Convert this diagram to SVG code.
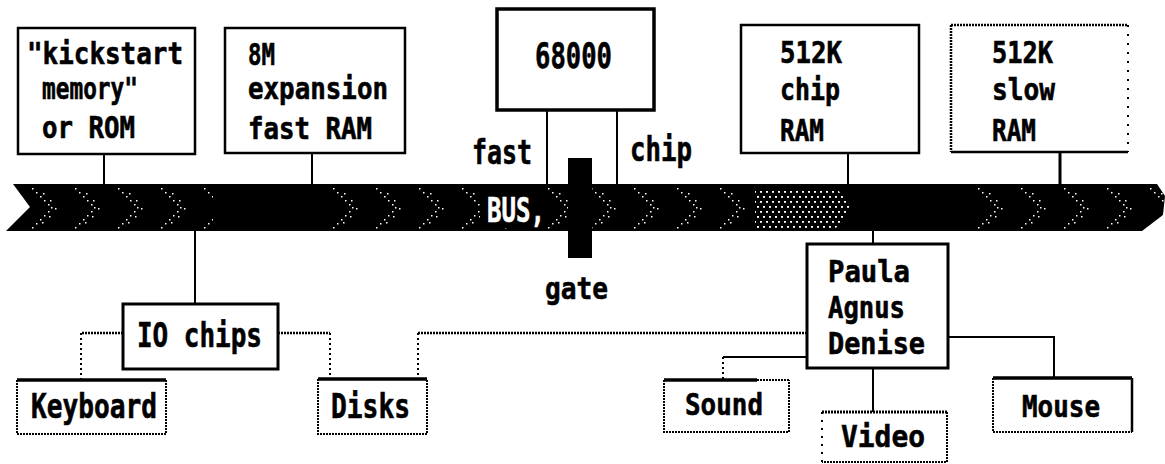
<svg xmlns="http://www.w3.org/2000/svg" width="1165" height="464" viewBox="0 0 1165 464">
<defs>
<style>
.bg{fill:#fff}
.box{fill:#fff;stroke:#000;stroke-width:2.5}
.t{font-family:"DejaVu Sans Mono","Liberation Mono",monospace;font-weight:bold;fill:#000;stroke:#000;stroke-width:0.6}
.ln{fill:none;stroke:#000;stroke-width:2}
.dot{fill:none;stroke:#000;stroke-width:2;stroke-dasharray:2 3}
.dense{fill:none;stroke:#000;stroke-width:2.5;stroke-dasharray:2 1}
.solidtop{fill:none;stroke:#000;stroke-width:3.5}
</style>
<pattern id="chev" patternUnits="userSpaceOnUse" x="30" y="184" width="43" height="47">
<g fill="#fff">
<rect x="2" y="4" width="1.5" height="1.5"/><rect x="6" y="8" width="1.5" height="1.5"/><rect x="10" y="12" width="1.5" height="1.5"/><rect x="14" y="16" width="1.5" height="1.5"/><rect x="18" y="20" width="1.5" height="1.5"/>
<rect x="21" y="23" width="1.5" height="1.5"/>
<rect x="18" y="27" width="1.5" height="1.5"/><rect x="14" y="31" width="1.5" height="1.5"/><rect x="10" y="35" width="1.5" height="1.5"/><rect x="6" y="39" width="1.5" height="1.5"/><rect x="2" y="43" width="1.5" height="1.5"/>
<rect x="13" y="9" width="1.5" height="1.5"/><rect x="20" y="16" width="1.5" height="1.5"/><rect x="25" y="24" width="1.5" height="1.5"/>
<rect x="19" y="32" width="1.5" height="1.5"/><rect x="12" y="38" width="1.5" height="1.5"/>
</g>
</pattern>
<pattern id="densep" patternUnits="userSpaceOnUse" x="0" y="184" width="6" height="10">
<rect x="1" y="2" width="2" height="1.8" fill="#fff"/><rect x="4" y="7" width="2" height="1.8" fill="#fff"/>
</pattern>
<clipPath id="busclip"><path d="M13,184 L1157,184 L1165,196 L1163,215 L1142,231 L6,231 L30,207 Z"/></clipPath>
</defs>
<rect class="bg" x="0" y="0" width="1165" height="464"/>

<g id="bus">
<path d="M13,184 L1157,184 L1165,196 L1163,215 L1142,231 L6,231 L30,207 Z" fill="#000"/>
<g clip-path="url(#busclip)">
<rect x="28" y="184" width="185" height="47" fill="url(#chev)"/>
<rect x="318" y="184" width="437" height="47" fill="url(#chev)"/>
<rect x="975" y="184" width="190" height="47" fill="url(#chev)"/>
<path d="M755,190 H838 L851,207 L836,228 H755 Z" fill="url(#densep)"/>
</g>
<rect x="480" y="188" width="68" height="40" fill="#000"/>
<text class="t" x="487" y="222" font-size="34" textLength="58" lengthAdjust="spacingAndGlyphs" style="fill:#fff;stroke:#fff">BUS,</text>
</g>

<g id="gate">
<rect x="568" y="158" width="24" height="100" fill="#000"/>
<text class="t" x="545" y="299" font-size="30" textLength="63" lengthAdjust="spacingAndGlyphs">gate</text>
</g>

<g id="connectors">
<line class="ln" x1="104" y1="154" x2="104" y2="185"/>
<line class="ln" x1="312" y1="153" x2="312" y2="185"/>
<line class="ln" x1="547" y1="110" x2="547" y2="185"/>
<line class="ln" x1="617" y1="110" x2="617" y2="185"/>
<line class="ln" x1="848" y1="153" x2="848" y2="185"/>
<line class="ln" x1="1060" y1="152" x2="1060" y2="185" style="stroke-width:3"/>
<line class="ln" x1="195" y1="230" x2="195" y2="304"/>
<line class="ln" x1="873" y1="230" x2="873" y2="244"/>
<path class="dense" d="M123,333 H81"/>
<path class="dot" d="M81,333 V380"/>
<path class="dense" d="M278,333 H330"/>
<path class="dot" d="M330,333 V379"/>
<path class="dense" d="M807,333 H418"/>
<path class="dot" d="M418,333 V378"/>
<path class="ln" d="M807,357 H723"/>
<path class="dot" d="M723,357 V380"/>
<path class="ln" d="M873,368 V412"/>
<path class="ln" d="M948,337 H1054 V378"/>
<text class="t" x="472" y="164" font-size="33" textLength="60" lengthAdjust="spacingAndGlyphs">fast</text>
<text class="t" x="630" y="161" font-size="33" textLength="62" lengthAdjust="spacingAndGlyphs">chip</text>
</g>

<g id="kickstart">
<rect class="box" x="18" y="28" width="177" height="126"/>
<text class="t" x="27" y="64" font-size="30" textLength="156" lengthAdjust="spacingAndGlyphs">"kickstart</text>
<text class="t" x="42" y="99" font-size="30" textLength="96" lengthAdjust="spacingAndGlyphs">memory"</text>
<text class="t" x="42" y="138" font-size="30" textLength="93" lengthAdjust="spacingAndGlyphs">or ROM</text>
</g>

<g id="fastram">
<rect class="box" x="225" y="28" width="180" height="125"/>
<text class="t" x="248" y="65" font-size="30" textLength="27" lengthAdjust="spacingAndGlyphs">8M</text>
<text class="t" x="248" y="99" font-size="30" textLength="140" lengthAdjust="spacingAndGlyphs">expansion</text>
<text class="t" x="248" y="139" font-size="30" textLength="124" lengthAdjust="spacingAndGlyphs">fast RAM</text>
</g>

<g id="cpu">
<rect class="box" x="497" y="9" width="157" height="101" style="stroke-width:3.5"/>
<text class="t" x="535" y="68" font-size="35" textLength="77" lengthAdjust="spacingAndGlyphs">68000</text>
</g>

<g id="chipram">
<rect class="box" x="741" y="25" width="178" height="128"/>
<text class="t" x="780" y="63" font-size="30" textLength="62" lengthAdjust="spacingAndGlyphs">512K</text>
<text class="t" x="780" y="100" font-size="30" textLength="60" lengthAdjust="spacingAndGlyphs">chip</text>
<text class="t" x="780" y="141" font-size="30" textLength="44" lengthAdjust="spacingAndGlyphs">RAM</text>
</g>

<g id="slowram">
<rect x="951" y="25" width="177" height="127" fill="#fff"/>
<path class="dense" d="M951,25 H1128"/>
<path class="dense" d="M951,25 V152"/>
<path class="dot" d="M1128,25 V152" style="stroke-dasharray:2 7"/>
<path class="ln" d="M951,152 H1128" style="stroke-width:2.5"/>
<text class="t" x="992" y="63" font-size="30" textLength="61" lengthAdjust="spacingAndGlyphs">512K</text>
<text class="t" x="992" y="100" font-size="30" textLength="63" lengthAdjust="spacingAndGlyphs">slow</text>
<text class="t" x="992" y="141" font-size="30" textLength="44" lengthAdjust="spacingAndGlyphs">RAM</text>
</g>

<g id="custom">
<rect class="box" x="807" y="244" width="141" height="124" style="stroke-width:3"/>
<text class="t" x="828" y="282" font-size="30" textLength="82" lengthAdjust="spacingAndGlyphs">Paula</text>
<text class="t" x="828" y="318" font-size="30" textLength="77" lengthAdjust="spacingAndGlyphs">Agnus</text>
<text class="t" x="828" y="354" font-size="30" textLength="97" lengthAdjust="spacingAndGlyphs">Denise</text>
</g>

<g id="io">
<rect class="box" x="123" y="304" width="155" height="65" style="stroke-width:3"/>
<text class="t" x="137" y="347" font-size="34" textLength="125" lengthAdjust="spacingAndGlyphs">IO chips</text>
</g>

<g id="keyboard">
<path class="solidtop" d="M17,380 H166"/>
<path class="dense" d="M17,380 V434 H166 V380" style="stroke-width:2"/>
<text class="t" x="31" y="418" font-size="33" textLength="126" lengthAdjust="spacingAndGlyphs">Keyboard</text>
</g>

<g id="disks">
<path class="solidtop" d="M318,379 H427"/>
<path class="dense" d="M318,379 V434 H427 V379" style="stroke-width:2"/>
<text class="t" x="331" y="418" font-size="33" textLength="79" lengthAdjust="spacingAndGlyphs">Disks</text>
</g>

<g id="sound">
<path class="solidtop" d="M664,380 H757"/>
<path class="dense" d="M757,380 H789" style="stroke-width:2"/>
<path class="dense" d="M664,380 V432 H789 V380" style="stroke-width:2"/>
<text class="t" x="685" y="415" font-size="31" textLength="78" lengthAdjust="spacingAndGlyphs">Sound</text>
</g>

<g id="video">
<path class="dense" d="M822,412 H947" style="stroke-width:3"/>
<path class="dot" d="M822,412 V462" style="stroke-dasharray:2 6"/>
<path class="dense" d="M947,412 V462 H822" style="stroke-width:2"/>
<text class="t" x="841" y="447" font-size="31" textLength="84" lengthAdjust="spacingAndGlyphs">Video</text>
</g>

<g id="mouse">
<path class="solidtop" d="M993,378 H1132"/>
<path class="dense" d="M993,378 V432 H1132" style="stroke-width:2"/>
<path class="ln" d="M1132,378 V432" style="stroke-width:2.5"/>
<text class="t" x="1022" y="417" font-size="31" textLength="78" lengthAdjust="spacingAndGlyphs">Mouse</text>
</g>
</svg>
